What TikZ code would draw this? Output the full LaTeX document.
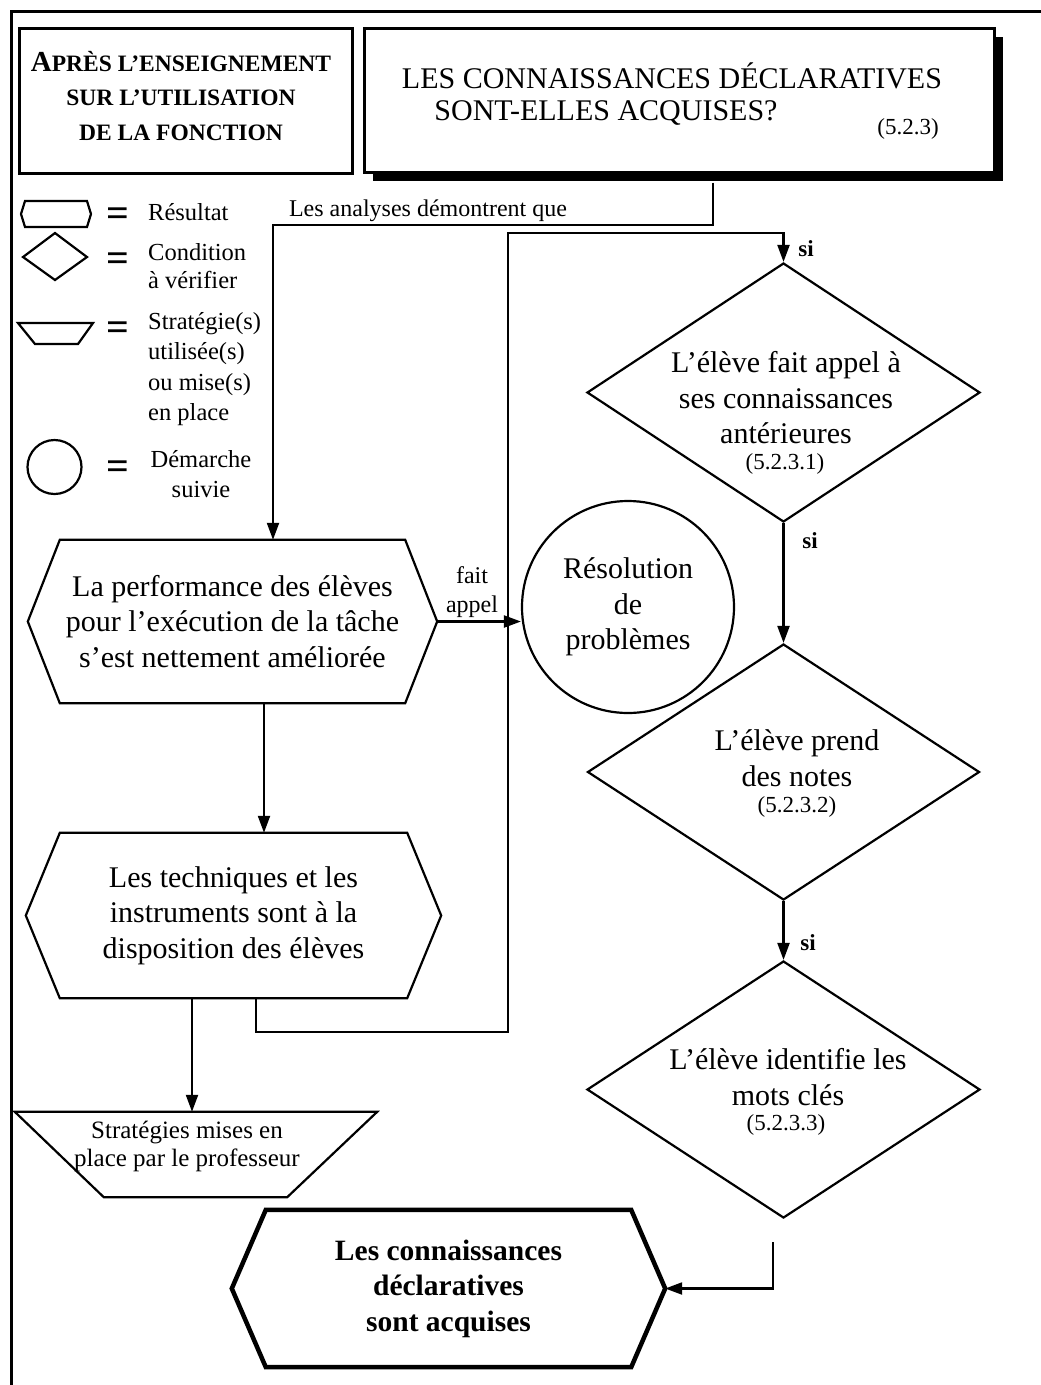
\documentclass[tikz,border=0pt]{standalone}
\usepackage{fontspec}
\setmainfont{Liberation Serif}
\usetikzlibrary{arrows.meta,shapes.geometric,shadows}

% outline of a hexagonal "result" box around a rectangular node
\newcommand\hexoutline[3][]{%
  \draw[shp,#1] (#2.north west) -- (#2.north east) -- ([xshift=#3]#2.east) coordinate (#2r)
    -- (#2.south east) -- (#2.south west) -- ([xshift=-#3]#2.west) coordinate (#2l) -- cycle;}

\begin{document}
\begin{tikzpicture}[x=1pt,y=-1pt,
  frame/.style={line width=3pt},
  box/.style={draw,line width=3pt,inner sep=0pt},
  shp/.style={line width=2.2pt,line join=miter},
  conn/.style={line width=2.2pt},
  arr/.style={conn,-{Triangle[length=17pt,width=12pt]}},
  body/.style={font=\fontsize{30}{35.5}\selectfont,align=center,inner sep=0pt},
  num/.style={font=\fontsize{23}{26}\selectfont,inner sep=0pt},
  note/.style={font=\fontsize{24}{29}\selectfont,inner sep=0pt,align=center},
  yes/.style={font=\bfseries\fontsize{23}{26}\selectfont,inner sep=0pt},
  leg/.style={font=\fontsize{24.5}{30.5}\selectfont,inner sep=0pt},
  eq/.style={font=\bfseries\fontsize{40}{40}\selectfont,inner sep=0pt},
  area/.style={inner sep=0pt}
]
\useasboundingbox (0,0) rectangle (1041,1385);

% page frame
\draw[frame] (1041,11) -- (11,11) -- (11,1385);

% heading boxes
\node[box,minimum width=333pt,minimum height=145pt] (tlb) at (185.5,100.5) {};
\node[font=\bfseries\fontsize{23.5}{34.5}\selectfont,align=center,inner sep=0pt] (tlt) at (181,96)
  {{\fontsize{29}{34.5}\selectfont A}PRÈS L’ENSEIGNEMENT\\SUR L’UTILISATION\\DE LA FONCTION};

\node[box,fill=white,minimum width=630pt,minimum height=144pt,
      drop shadow={shadow xshift=9pt,shadow yshift=-9pt,fill=black,opacity=1}] (trb) at (679,100) {};
\node[font=\fontsize{30}{34}\selectfont,inner sep=0pt] (tr1) at (672,76) {LES CONNAISSANCES DÉCLARATIVES};
\node[font=\fontsize{30}{34}\selectfont,inner sep=0pt] (tr2) at (606,113) {SONT-ELLES ACQUISES?};
\node[num] (tr3) at (908,129) {(5.2.3)};

% legend
\draw[shp] (21,214) -- (25,201) -- (87,201) -- (91,214) -- (87,227) -- (25,227) -- cycle;
\node[eq] (eq1) at (118,217) {=};
\node[leg,anchor=west] (lg1) at (148,212) {Résultat};
\draw[shp] (55,233) -- (87,257) -- (55,280) -- (23,257) -- cycle;
\node[eq] (eq2) at (118,262) {=};
\node[leg,anchor=west,align=left,font=\fontsize{24.5}{28.5}\selectfont] (lg2) at (148,266) {Condition\\à vérifier};
\draw[shp] (18,323) -- (93,323) -- (78,344) -- (35,344) -- cycle;
\node[eq] (eq3) at (118,331) {=};
\node[leg,anchor=west,align=left] (lg3) at (148,369) {Stratégie(s)\\utilisée(s)\\ou mise(s)\\en place};
\draw[shp] (54.5,467) circle (27);
\node[eq] (eq4) at (118,470) {=};
\node[leg,align=center] (lg4) at (201,474) {Démarche\\suivie};

% left column: results and strategy
\node[body,minimum width=345pt,minimum height=163pt] (h1) at (232.5,621.5)
  {La performance des élèves\\pour l’exécution de la tâche\\s’est nettement améliorée};
\hexoutline{h1}{32pt}
\node[body,minimum width=347pt,minimum height=165pt] (h2) at (233.5,915.5)
  {Les techniques et les\\instruments sont à la\\disposition des élèves};
\hexoutline{h2}{34pt}
\node[area,minimum width=362pt,minimum height=85pt] (tz) at (196,1154.5) {};
\draw[shp] (tz.north west) -- (tz.north east) -- ([xshift=-90pt]tz.south east)
  -- ([xshift=89pt]tz.south west) -- cycle;
\node[leg,align=center,font=\fontsize{25}{28}\selectfont] (tzt) at (187,1146)
  {Stratégies mises en\\place par le professeur};

% process followed
\node[circle,draw,shp,minimum size=212pt,body] (circ) at (628,607) {Résolution\\de\\problèmes};

% conditions
\node[diamond,draw,shp,minimum width=393pt,minimum height=259pt,inner sep=0pt] (d1) at (783.5,392.5) {};
\node[body] (d1t) at (786,398) {L’élève fait appel à\\ses connaissances\\antérieures};
\node[num] (d1n) at (785,464) {(5.2.3.1)};
\node[diamond,draw,shp,minimum width=392pt,minimum height=256pt,inner sep=0pt] (d2) at (783.5,772) {};
\node[body] (d2t) at (797,758) {L’élève prend\\des notes};
\node[num] (d2n) at (797,807) {(5.2.3.2)};
\node[diamond,draw,shp,minimum width=393pt,minimum height=257pt,inner sep=0pt] (d3) at (783.5,1089.5) {};
\node[body] (d3t) at (788,1077) {L’élève identifie les\\mots clés};
\node[num] (d3n) at (786,1125) {(5.2.3.3)};

% final result
\node[area,minimum width=365pt,minimum height=157pt,align=center,
      font=\bfseries\fontsize{29.5}{35.5}\selectfont] (fin) at (448.5,1288.5)
  {Les connaissances\\déclaratives\\sont acquises};
\hexoutline[line width=4.5pt]{fin}{34pt}

% connectors
\coordinate (s0) at ([xshift=34pt,yshift=-9pt]trb.south);
\coordinate (k1) at (273,225);
\draw[arr] (s0) |- (k1) -- (k1 |- h1.north);
\node[note] (lab1) at (428,211) {Les analyses démontrent que};

\coordinate (k5) at (264,0);
\draw[arr] (k5 |- h1.south) -- (k5 |- h2.north);

\coordinate (k2) at (256,1032);
\coordinate (k3) at (508,233);
\draw[arr] (k2 |- h2.south) -- (k2) -| (k3) -| (d1.north);
\node[yes] (si1) at (806,249) {si};

\coordinate (k4) at (192,0);
\draw[arr] (k4 |- h2.south) -- (k4 |- tz.north);

\draw[arr] (h1r) -- (h1r -| circ.west);
\node[note] (fa) at (472,592) {fait\\appel};

\draw[arr] (d1.south) -- (d2.north);
\node[yes] (si2) at (810,541) {si};
\draw[arr] (d2.south) -- (d3.north);
\node[yes] (si3) at (808,943) {si};

\coordinate (k6) at (773,1242);
\draw[arr] (k6) |- (finr);

\end{tikzpicture}
\end{document}
